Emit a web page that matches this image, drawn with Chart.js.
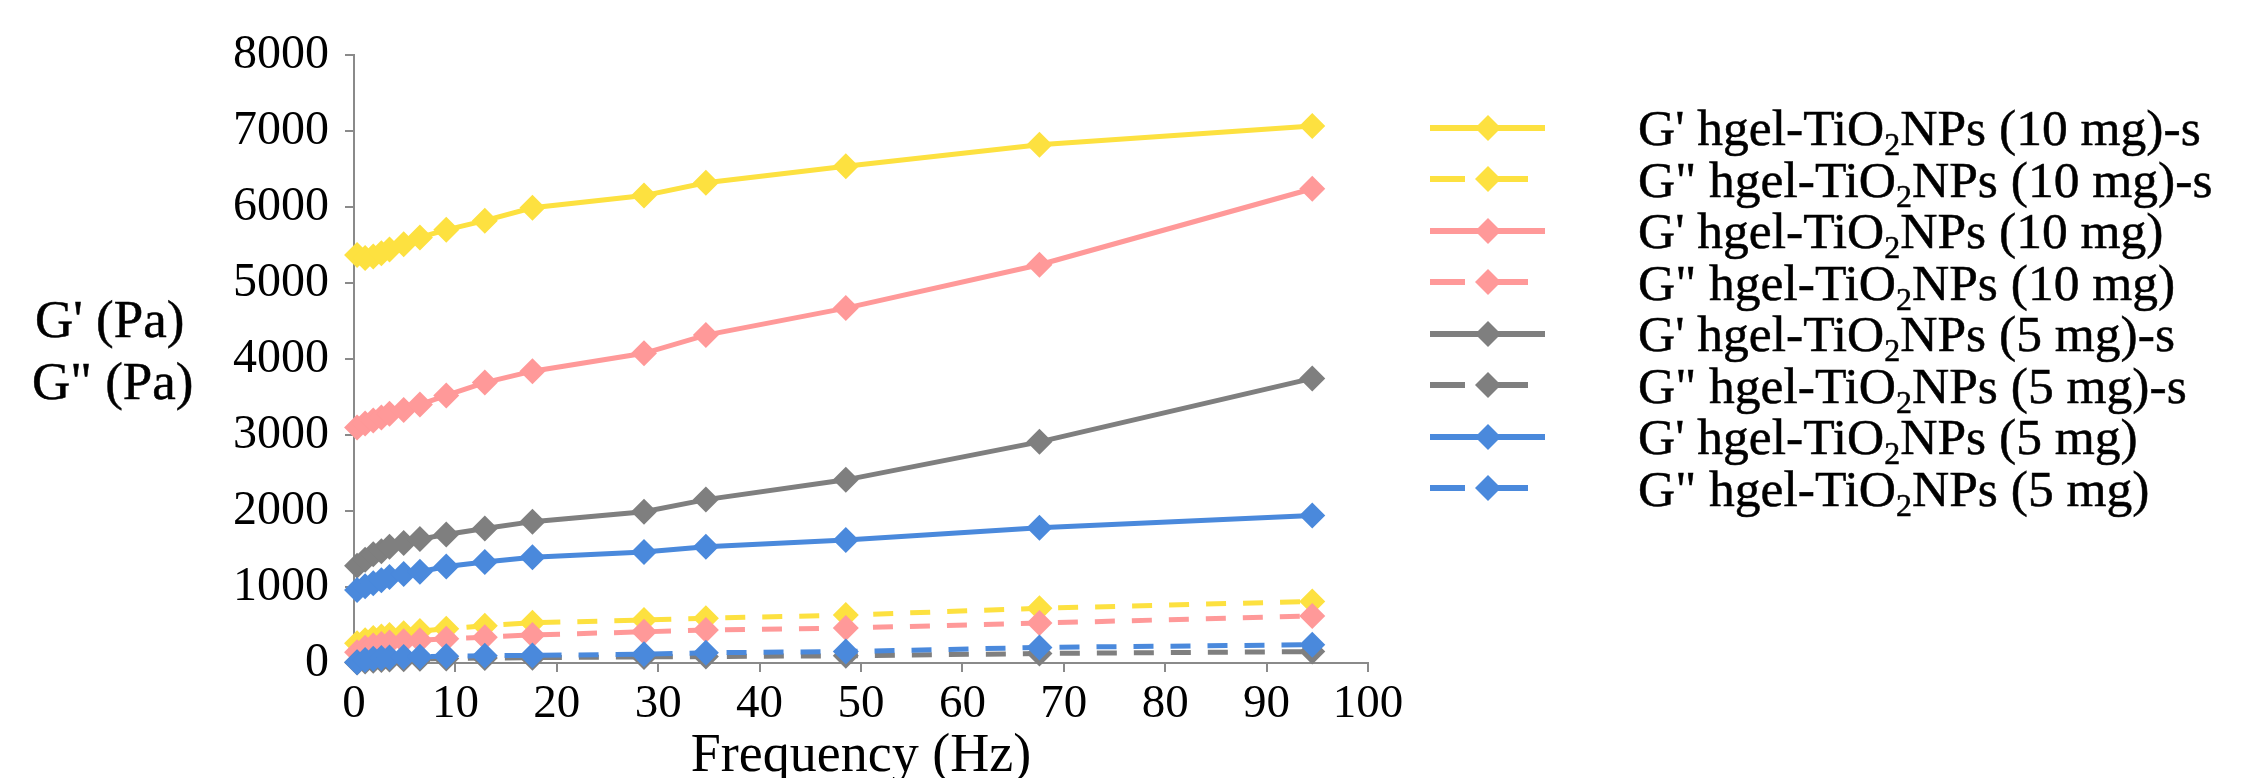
<!DOCTYPE html>
<html>
<head>
<meta charset="utf-8">
<script src="https://cdn.jsdelivr.net/npm/chart.js@4.4.0/dist/chart.umd.min.js"></script>
<style>
    html, body { margin: 0; padding: 0; background: #fff; }
    #wrap { position: relative; width: 2243px; height: 778px; overflow: hidden; font-family: 'Liberation Serif', 'Times New Roman', serif; color: #000; }
    #gChart { position: absolute; left: 0; top: 0; }
    .ylab { position: absolute; font-size: 53px; line-height: 1; white-space: nowrap; -webkit-text-stroke: 0.5px #000; }
    #legend { position: absolute; left: 1430px; top: 102px; }
    .row { height: 51.5px; display: flex; align-items: center; }
    .row svg { flex: none; width: 208px; height: 30px; }
    .row span { font-size: 51.5px; line-height: 1; white-space: nowrap; -webkit-text-stroke: 0.5px #000; }
    .row sub { font-size: 0.62em; vertical-align: -0.32em; line-height: 0; }
</style>
</head>
<body>
<div id="wrap">
    <canvas id="gChart" width="2243" height="778"></canvas>
    <div class="ylab" style="left:35px; top:293px;">G' (Pa)</div>
    <div class="ylab" style="left:32px; top:355px;">G" (Pa)</div>
    <div id="legend"></div>
</div>
<script>
// frequency sweep (Hz)
const freqHz = [0.3, 1.1, 1.9, 2.7, 3.5, 4.9, 6.5, 9.1, 12.9, 17.6, 28.6, 34.7, 48.5, 67.6, 94.5];

// 10 mg, -s
const gStor10s = [5370, 5330, 5350, 5390, 5440, 5510, 5600, 5700, 5820, 5990, 6150, 6320, 6535, 6820, 7065];
const gLoss10s = [260, 300, 330, 350, 370, 390, 420, 450, 490, 530, 565, 590, 630, 720, 810];
// 10 mg
const gStor10 = [3100, 3150, 3190, 3230, 3280, 3330, 3400, 3520, 3690, 3840, 4075, 4315, 4670, 5240, 6240];
const gLoss10 = [140, 200, 230, 250, 270, 285, 300, 320, 340, 370, 410, 435, 460, 525, 620];
// 5 mg, -s
const gStor5s = [1280, 1360, 1430, 1470, 1530, 1580, 1630, 1690, 1770, 1860, 1990, 2150, 2410, 2910, 3745];
const gLoss5s = [5, 20, 30, 40, 45, 50, 55, 60, 65, 70, 80, 85, 95, 125, 150];
// 5 mg
const gStor5 = [960, 1010, 1050, 1090, 1130, 1170, 1200, 1270, 1330, 1390, 1460, 1530, 1620, 1780, 1940];
const gLoss5 = [10, 40, 55, 65, 72, 78, 82, 88, 95, 100, 115, 135, 150, 205, 240];

const seriesLabels = [
    "G' hgel-TiO2NPs (10 mg)-s",
    'G" hgel-TiO2NPs (10 mg)-s',
    "G' hgel-TiO2NPs (10 mg)",
    'G" hgel-TiO2NPs (10 mg)',
    "G' hgel-TiO2NPs (5 mg)-s",
    'G" hgel-TiO2NPs (5 mg)-s',
    "G' hgel-TiO2NPs (5 mg)",
    'G" hgel-TiO2NPs (5 mg)'
];
const seriesValues = [gStor10s, gLoss10s, gStor10, gLoss10, gStor5s, gLoss5s, gStor5, gLoss5];
const seriesColors = ['#FDE140', '#FDE140', '#FF9999', '#FF9999', '#7F7F7F', '#7F7F7F', '#4A89DC', '#4A89DC'];

const xTicks = { min: 0, max: 100, step: 10 };
const yTicks = { min: 0, max: 8000, step: 1000 };

const FONT = "'Liberation Serif', 'Times New Roman', serif";
const DASH = [20, 17];

const datasets = seriesLabels.map((label, i) => {
    const dashed = i % 2 === 1;
    return {
        label: label,
        data: freqHz.map((f, j) => ({ x: f, y: seriesValues[i][j] })),
        borderColor: seriesColors[i],
        backgroundColor: seriesColors[i],
        borderWidth: 5,
        borderDash: dashed ? DASH : [],
        pointStyle: 'rectRot',
        pointRadius: 13,
        pointBorderWidth: 0,
        pointBackgroundColor: seriesColors[i],
        tension: 0,
        clip: false,
        // later series on top, like the original
        order: seriesLabels.length - i
    };
});

const ctx = document.getElementById('gChart').getContext('2d');
const gChart = new Chart(ctx, {
    type: 'line',
    data: { datasets: datasets },
    options: {
        responsive: false,
        animation: false,
        layout: { padding: { left: 0, top: 55, right: 875, bottom: 0 } },
        plugins: {
            legend: { display: false },
            tooltip: { enabled: false }
        },
        scales: {
            x: {
                type: 'linear',
                min: xTicks.min,
                max: xTicks.max,
                ticks: {
                    stepSize: xTicks.step,
                    color: '#000',
                    font: { family: FONT, size: 47 },
                    padding: 4,
                    maxRotation: 0,
                    autoSkip: false
                },
                grid: { drawOnChartArea: false, drawTicks: true, tickLength: 9, color: '#8a8a8a', lineWidth: 2 },
                border: { color: '#8a8a8a', width: 2 },
                title: {
                    display: true,
                    text: 'Frequency (Hz)',
                    color: '#000',
                    font: { family: FONT, size: 54, lineHeight: 1 },
                    padding: { top: 0, bottom: -6 }
                },
                afterFit: function(scale) {
                    scale.height = 115;
                    scale.paddingLeft = 0;
                    scale.paddingRight = 0;
                }
            },
            y: {
                type: 'linear',
                min: yTicks.min,
                max: yTicks.max,
                ticks: {
                    stepSize: yTicks.step,
                    color: '#000',
                    font: { family: FONT, size: 48 },
                    padding: 16,
                    callback: function(value) {
                        return String(value);
                    }
                },
                grid: { drawOnChartArea: false, drawTicks: true, tickLength: 9, color: '#8a8a8a', lineWidth: 2 },
                border: { color: '#8a8a8a', width: 2 },
                afterFit: function(scale) {
                    scale.width = 354;
                    scale.paddingTop = 0;
                    scale.paddingBottom = 0;
                }
            }
        }
    },
    plugins: [{
        id: 'pageBg',
        beforeDraw: function(chart) {
            const c = chart.ctx;
            c.save();
            c.fillStyle = '#ffffff';
            c.fillRect(0, 0, chart.width, chart.height);
            c.restore();
        }
    }]
});

// html legend built from the datasets
function buildLegend(chart) {
    const box = document.getElementById('legend');
    chart.data.datasets.forEach(ds => {
        const row = document.createElement('div');
        row.className = 'row';
        const dashed = ds.borderDash && ds.borderDash.length;
        const col = ds.borderColor;
        let lines;
        if (dashed) {
            lines = `<line x1="0" y1="15" x2="35" y2="15" stroke="${col}" stroke-width="6"/>` +
                    `<line x1="68" y1="15" x2="98" y2="15" stroke="${col}" stroke-width="6"/>`;
        } else {
            lines = `<line x1="0" y1="15" x2="115" y2="15" stroke="${col}" stroke-width="6"/>`;
        }
        const marker = `<polygon points="58,2 71,15 58,28 45,15" fill="${col}"/>`;
        const text = ds.label.replace('TiO2', 'TiO<sub>2</sub>');
        row.innerHTML = `<svg viewBox="0 0 208 30">${lines}${marker}</svg><span>${text}</span>`;
        box.appendChild(row);
    });
}
buildLegend(gChart);
</script>
</body>
</html>
